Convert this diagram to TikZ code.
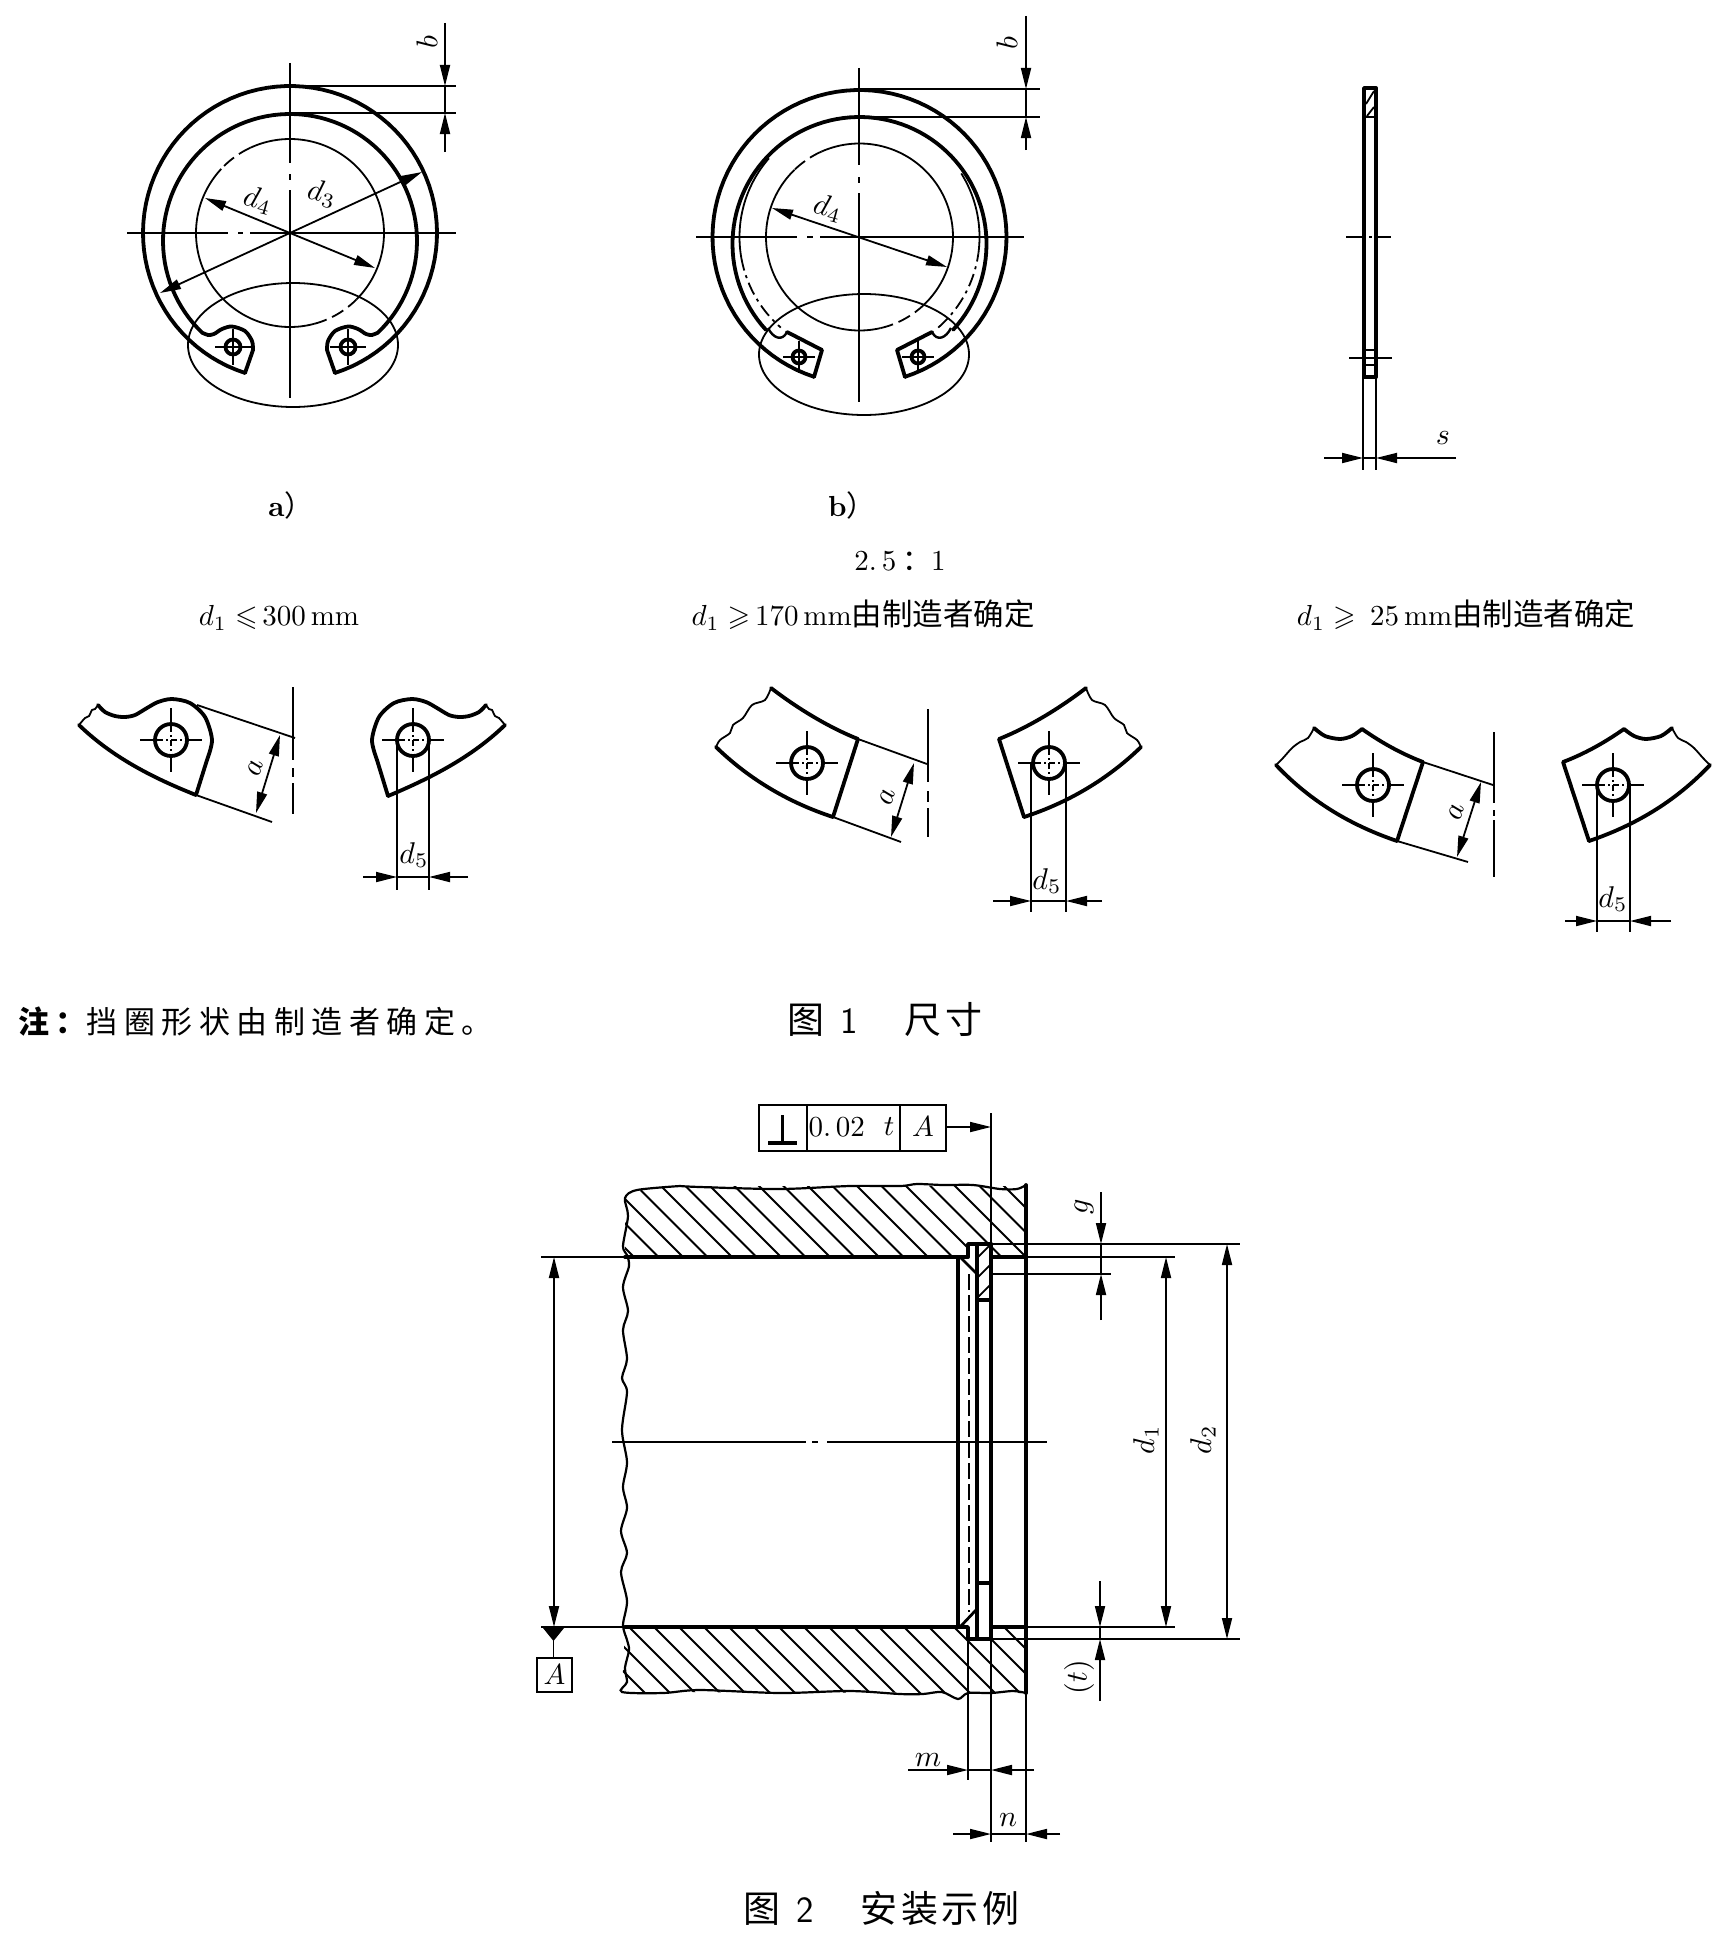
\documentclass[tikz,border=0pt]{standalone}
\usepackage{amssymb}
\usepackage{fontspec}
\newfontfamily\cjk{Noto Sans CJK SC}
\newfontfamily\cjkwide[LetterSpace=21]{Noto Sans CJK SC}
\newfontfamily\cjktitle[LetterSpace=10]{Noto Sans CJK SC}
\usetikzlibrary{arrows.meta}
\tikzset{
  thk/.style={line width=3.8pt,line cap=round,line join=round},
  thn/.style={line width=1.8pt},
  lab/.style={scale=3.0,inner sep=0pt},
  captxt/.style={scale=2.9,inner sep=0pt},
}
\newcommand\arcd[6]{\draw[#1] plot[domain=#5:#6,samples=90] ({#2+#4*cos(\x)},{#3-#4*sin(\x)});}
\newcommand\holea[2]{%
  \draw[thk] (#1,#2) circle[radius=7.5pt];
  \draw[thn] ({#1-18},#2)--({#1+18},#2) (#1,{#2-18})--(#1,{#2+18});}
\newcommand\holeb[2]{%
  \draw[thk] (#1,#2) circle[radius=16pt];
  \draw[thn] ({#1-31},#2)--({#1-16},#2) ({#1+16},#2)--({#1+31},#2)
             (#1,{#2-32})--(#1,{#2-16}) (#1,{#2+16})--(#1,{#2+32});
  \draw[line width=1.4pt,dash pattern=on 6pt off 3pt on 2pt off 3pt] ({#1-14},#2)--({#1+14},#2) (#1,{#2-14})--(#1,{#2+14});}
\begin{document}
\begin{tikzpicture}[x=1pt,y=-1pt,>={Triangle[length=21pt,width=10pt]}]
\useasboundingbox (0,0) rectangle (1728,1959);
\fill[white] (0,0) rectangle (1728,1959);
%%% ---------- Ring a ----------
\arcd{thk}{290}{233}{147}{-72.2}{252.2}
\arcd{thk}{290}{241}{127}{-46.6}{226.6}
\arcd{thn}{290}{233}{94}{-45}{115}
\arcd{thn}{290}{233}{94}{137}{285}
\arcd{thn,dash pattern=on 13pt off 6pt}{290}{233}{94}{115}{137}
\arcd{thn,dash pattern=on 13pt off 6pt}{290}{233}{94}{-75}{-45}
\draw[thk] plot[smooth] coordinates {(203,333)(208,335)(214,334)(222,329)(232,326.5)(245,331)(252,341)(253,350)} -- (245,373);
\draw[thk] plot[smooth] coordinates {(377,333)(372,335)(366,334)(358,329)(348,326.5)(335,331)(328,341)(327,350)} -- (335,373);
\holea{233}{347}\holea{348}{347}
\draw[thn] (293,345) ellipse[x radius=105pt,y radius=62pt];
\draw[thn] (290,63)--(290,163) (290,174)--(290,180) (290,190)--(290,398);
\draw[thn] (127,233)--(228,233) (238,233)--(243,233) (250,233)--(456,233);
\draw[thn] (290,86)--(456,86) (290,113)--(456,113);
\draw[thn,->] (445,23)--(445,86);
\draw[thn,->] (445,152)--(445,113);
\draw[thn] (445,86)--(445,113);
\node[lab,rotate=90] (ba) at (427,42) {$b$};
\draw[thn,<->] (205,198)--(375,268);
\draw[thn,<->] (160,293)--(422,172);
\node[lab,rotate=-15] (d4a) at (258,200) {$d_4$};
\node[lab,rotate=-12] (d3a) at (322,194) {$d_3$};
\node[captxt] (capa) at (291,505) {\textbf{a}{\cjk ）}};
%%% ---------- Ring b ----------
\arcd{thk}{859.5}{237}{147}{-72}{252}
\arcd{thk}{859.5}{244}{127}{-42.5}{222.5}
\arcd{thn}{859.5}{237}{120}{-8}{32}
\arcd{thn}{859.5}{237}{120}{139}{190}
\arcd{thn,dash pattern=on 13pt off 5pt on 3pt off 5pt}{859.5}{237}{120}{190}{229}
\arcd{thn,dash pattern=on 13pt off 5pt on 3pt off 5pt}{859.5}{237}{120}{-49}{-8}
\arcd{thn}{859.5}{237}{93.5}{-47}{114}
\arcd{thn}{859.5}{237}{93.5}{134}{283}
\arcd{thn,dash pattern=on 13pt off 6pt}{859.5}{237}{93.5}{114}{134}
\arcd{thn,dash pattern=on 13pt off 6pt}{859.5}{237}{93.5}{-77}{-47}
\draw[line width=2.4pt] (768,328) .. controls (773,338) and (782,342) .. (787,332);
\draw[line width=2.4pt] (951,328) .. controls (946,338) and (937,342) .. (932,332);
\draw[thk] (787,332) -- (822,350) -- (814,377);
\draw[thk] (932,332) -- (897,350) -- (905,377);
\draw[thk] (799,357) circle[radius=6.5pt] (918,357) circle[radius=6.5pt];
\draw[thn] (783,357)--(815,357) (799,341)--(799,373) (902,357)--(934,357) (918,341)--(918,373);
\draw[thn] (864,354.5) ellipse[x radius=105pt,y radius=60.5pt];
\draw[thn] (859,68)--(859,165) (859,177)--(859,183) (859,193)--(859,402);
\draw[thn] (696,237)--(797,237) (807,237)--(813,237) (820,237)--(1024,237);
\draw[thn] (859,89)--(1040,89) (859,117)--(1040,117);
\draw[thn,->] (1026,16)--(1026,89);
\draw[thn,->] (1026,150)--(1026,117);
\draw[thn] (1026,89)--(1026,117);
\node[lab,rotate=90] (bb) at (1007,43) {$b$};
\draw[thn,<->] (772,208)--(947,267);
\node[lab,rotate=-15] (d4b) at (828,208) {$d_4$};
\node[captxt] (capb) at (852,505) {\textbf{b}{\cjk ）}};
%%% ---------- Side view ----------
\draw[thk] (1364,88) rectangle (1376,377);
\draw[line width=2.5pt] (1364,117)--(1376,117) (1364,350)--(1376,350) (1364,365)--(1376,365);
\draw[line width=1.8pt] (1366,104)--(1374,91) (1367,116)--(1374,107);
\draw[thn] (1346,237)--(1365,237) (1369,237)--(1372,237) (1375,237)--(1391,237);
\draw[thn] (1349,358)--(1392,358);
\draw[thn] (1363,377)--(1363,470) (1376,377)--(1376,470);
\draw[thn,->] (1324,458)--(1363,458);
\draw[thn,->] (1456,458)--(1376,458);
\draw[thn] (1363,458)--(1376,458);
\node[lab] (s) at (1443,438) {$s$};
%%% ---------- Texts ----------
\node[captxt] (scale) at (900,561) {2.\,5\hspace{2pt}{\cjk ：}1};
\node[captxt] (t1) at (279,618) {$d_1\leqslant$\,300\,mm};
\node[captxt] (t2) at (863,615) {$d_1\geqslant$\,170\,mm{\fontsize{10.5}{12}\selectfont\cjk 由制造者确定}};
\node[captxt] (t3) at (1466,615) {$d_1\geqslant$\, 25\,mm{\fontsize{10.5}{12}\selectfont\cjk 由制造者确定}};
\node[anchor=west,inner sep=0pt,font=\fontsize{31}{33}\selectfont] (note) at (18,1022) {\cjkwide\bfseries 注：{\mdseries 挡圈形状由制造者确定。}};
\node[anchor=west,inner sep=0pt,font=\fontsize{37}{39}\selectfont] (fig1) at (787,1020) {\cjktitle 图\hspace{16pt}{\sffamily 1}\hspace{47pt}尺寸};
\node[anchor=west,inner sep=0pt,font=\fontsize{37}{39}\selectfont] (fig2) at (743,1908) {\cjktitle 图\hspace{16pt}{\sffamily 2}\hspace{47pt}安装示例};
%%% ---------- Detail 1 ----------
\draw[thn] plot[smooth] coordinates {(79,725)(85,718)(89,716)(92,710)(95,709)(98,705)};
\draw[thk] plot[smooth] coordinates {(98,705)(105,712)(115,716)(125,717)(135,715)(147,708)(158,702)(172,699)(190,703)(205,717)(212,740)(207,760)} -- (196,795);
\draw[thk] (79,725) .. controls (112,757) and (153,778) .. (196,795);
\holeb{171}{740}
\draw[thn] (197,705)--(295,738) (196,795)--(272,822);
\draw[thn,<->] (280,735)--(256,813);
\draw[thn] (293,687)--(293,760) (293,768)--(293,777) (293,783)--(293,814);
\node[lab,rotate=73] (a1) at (255,768) {$a$};
\draw[thn] plot[smooth] coordinates {(505,725)(499,718)(495,716)(492,710)(489,709)(486,705)};
\draw[thk] plot[smooth] coordinates {(486,705)(479,712)(469,716)(459,717)(449,715)(437,708)(426,702)(412,699)(394,703)(379,717)(372,740)(377,760)} -- (388,796);
\draw[thk] (505,725) .. controls (472,757) and (431,778) .. (388,796);
\holeb{413}{740}
\draw[thn] (397,740)--(397,890) (429,740)--(429,890);
\draw[thn,->] (363,877)--(397,877);
\draw[thn,->] (468,877)--(429,877);
\draw[thn] (397,877)--(429,877);
\node[lab] (d5a) at (414,855) {$d_5$};
%%% ---------- Detail 2 ----------
\draw[thn] plot[smooth] coordinates {(716,747)(720,740)(730,733)(733,725)(743,718)(752,705)(765,700)(771,688)};
\draw[thk] (771,688) .. controls (797,708) and (828,727) .. (858,739) -- (833,817);
\draw[thk] (716,747) .. controls (750,780) and (790,803) .. (833,817);
\holeb{807}{763}
\draw[thn] (858,739)--(927,764) (833,817)--(901,842);
\draw[thn,<->] (914,763)--(891,837);
\draw[thn] (928,709)--(928,782) (928,791)--(928,802) (928,808)--(928,837);
\node[lab,rotate=73] (a2) at (887,797) {$a$};
\draw[thn] plot[smooth] coordinates {(1141,747)(1137,740)(1127,733)(1124,725)(1114,718)(1105,705)(1092,700)(1086,688)};
\draw[thk] (1086,688) .. controls (1060,708) and (1029,727) .. (999,739) -- (1024,817);
\draw[thk] (1141,747) .. controls (1107,780) and (1067,803) .. (1024,817);
\holeb{1049}{763}
\draw[thn] (1031,763)--(1031,912) (1066,763)--(1066,912);
\draw[thn,->] (993,901)--(1031,901);
\draw[thn,->] (1102,901)--(1066,901);
\draw[thn] (1031,901)--(1066,901);
\node[lab] (d5b) at (1047,881) {$d_5$};
%%% ---------- Detail 3 ----------
\draw[thn] plot[smooth] coordinates {(1276,765)(1283,758)(1292,748)(1300,742)(1308,738)(1314,728)};
\draw[thk] plot[smooth] coordinates {(1314,728)(1325,736)(1340,739)(1352,736)(1362,729)};
\draw[thk] (1362,729) .. controls (1382,743) and (1402,754) .. (1423,762) -- (1397,841);
\draw[thk] (1276,765) .. controls (1312,803) and (1353,826) .. (1397,841);
\holeb{1373}{785}
\draw[thn] (1423,762)--(1493,785) (1397,841)--(1468,862);
\draw[thn,<->] (1481,782)--(1457,857);
\draw[thn] (1494,732)--(1494,803) (1494,810)--(1494,816) (1494,820)--(1494,877);
\node[lab,rotate=73] (a3) at (1456,812) {$a$};
\draw[thn] plot[smooth] coordinates {(1710,765)(1703,758)(1694,748)(1686,742)(1678,738)(1672,728)};
\draw[thk] plot[smooth] coordinates {(1672,728)(1661,736)(1646,739)(1634,736)(1624,729)};
\draw[thk] (1624,729) .. controls (1604,743) and (1584,754) .. (1563,762) -- (1589,841);
\draw[thk] (1710,765) .. controls (1674,803) and (1633,826) .. (1589,841);
\holeb{1613}{785}
\draw[thn] (1597,785)--(1597,932) (1630,785)--(1630,932);
\draw[thn,->] (1565,921)--(1597,921);
\draw[thn,->] (1671,921)--(1630,921);
\draw[thn] (1597,921)--(1630,921);
\node[lab] (d5c) at (1613,899) {$d_5$};
%%% ---------- Section, hatching ----------
\begin{scope}
\clip (625,1192) -- (680,1186) -- (1026,1186) -- (1026,1257) -- (991,1257) -- (991,1244) -- (968,1244) -- (968,1257) -- (625,1257) -- cycle;
\foreach \c in {-647.5,-623,...,-157} \draw[thn] ({\c+1100},1100)--({\c+1800},1800);
\end{scope}
\begin{scope}
\clip (625,1627) -- (968,1627) -- (968,1639) -- (991,1639) -- (991,1627) -- (1026,1627) -- (1026,1693) -- (622,1692) -- cycle;
\foreach \c in {-1073,-1048,...,-598} \draw[thn] ({\c+1500},1500)--({\c+1800},1800);
\end{scope}
\begin{scope}
\clip (977,1244) rectangle (991,1300);
\foreach \c in {2235,2255,2275,2295} \draw[thn] ({\c-1200},1200)--({\c-1350},1350);
\end{scope}
% wavy break lines
\draw[line width=2.2pt] plot[smooth] coordinates {(680,1186)(637,1190)(625,1198)(628,1216)(623,1246)(627,1255)(629,1266)(623,1287)(628,1311)(623,1330)(627,1359)(622,1378)(627,1392)(622,1430)(627,1462)(623,1487)(627,1508)(621,1531)(627,1553)(621,1572)(627,1601)(623,1625)(627,1640)(629,1650)(625,1668)(627,1682)(622,1692)(663,1693)(700,1690)(780,1693)(850,1691)(900,1694)(923,1694)(942,1692)(958,1699)(968,1693)(991,1693)(1013,1691)(1026,1693)};
\draw[line width=2.2pt] plot[smooth] coordinates {(680,1186)(700,1187)(780,1189)(850,1186)(900,1186)(917,1184)(943,1185)(973,1185)(1000,1189)(1017,1189)(1026,1185)};
% thick section outlines
\draw[thk] (625,1257)--(958,1257)--(968,1257)--(968,1244)--(991,1244);
\draw[thk] (991,1257)--(1026,1257);
\draw[thk] (625,1627)--(968,1627)--(968,1639)--(991,1639);
\draw[thk] (991,1627)--(1026,1627);
\draw[thk] (1026,1185)--(1026,1693);
\draw[thk] (958,1257)--(958,1627);
\draw[thk] (977,1244)--(977,1639);
\draw[thk] (991,1244)--(991,1639);
\draw[thk] (977,1300)--(991,1300) (977,1583)--(991,1583);
\draw[line width=2.8pt] (960,1257)--(977,1274) (960,1627)--(976,1610);
\draw[thn,dash pattern=on 16pt off 5pt] (969,1274)--(969,1612);
% centre line
\draw[thn] (612,1442)--(806,1442) (812,1442)--(818,1442) (827,1442)--(1047,1442);
% extension lines
\draw[thn] (991,1113)--(991,1244);
\draw[thn] (991,1244)--(1240,1244) (1026,1257)--(1175,1257) (991,1274)--(1111,1274);
\draw[thn] (1026,1627)--(1175,1627) (991,1639)--(1240,1639);
\draw[thn] (968,1639)--(968,1780) (991,1639)--(991,1842) (1026,1693)--(1026,1842);
\draw[thn] (541,1257)--(625,1257) (541,1627)--(625,1627);
% dimensions
\draw[thn,<->] (1166,1257)--(1166,1627);
\draw[thn,<->] (1227,1244)--(1227,1639);
\draw[thn,<->] (554,1257)--(554,1627);
\draw[thn,->] (1101,1192)--(1101,1244);
\draw[thn,->] (1101,1320)--(1101,1274);
\draw[thn] (1101,1244)--(1101,1274);
\draw[thn,->] (1100,1581)--(1100,1627);
\draw[thn,->] (1100,1701)--(1100,1639);
\draw[thn] (1100,1627)--(1100,1639);
\draw[thn,->] (908,1770)--(968,1770);
\draw[thn,->] (1034,1770)--(991,1770);
\draw[thn] (968,1770)--(991,1770);
\draw[thn,->] (953,1834)--(991,1834);
\draw[thn,->] (1060,1834)--(1026,1834);
\draw[thn] (991,1834)--(1026,1834);
\node[lab,rotate=90] (d1) at (1146,1440) {$d_1$};
\node[lab,rotate=90] (d2) at (1203,1440) {$d_2$};
\node[lab,rotate=90] (g) at (1084,1207) {$g$};
\node[lab,rotate=90] (t) at (1079,1677) {$(t)$};
\node[lab] (m) at (928,1760) {$m$};
\node[lab] (n) at (1008,1820) {$n$};
% datum
\fill (543,1628)--(564,1628)--(553.5,1641)--cycle;
\draw[thn] (553.5,1640)--(553.5,1658);
\draw[line width=1.6pt] (537,1658) rectangle (572,1692);
\node[captxt] (datum) at (554.5,1675) {$A$};
% tolerance frame
\draw[line width=2pt] (759,1105) rectangle (946,1151) (807,1105)--(807,1151) (900,1105)--(900,1151);
\draw[line width=3.5pt] (768,1143)--(797,1143);
\draw[line width=2.5pt] (782.5,1115)--(782.5,1143);
\node[captxt,anchor=west] (tol) at (808,1127) {0.\,02};
\node[captxt] (tolt) at (889,1127) {$t$};
\node[captxt] (tola) at (923,1127) {$A$};
\draw[thn,->] (946,1127)--(991,1127);
\end{tikzpicture}
\end{document}
